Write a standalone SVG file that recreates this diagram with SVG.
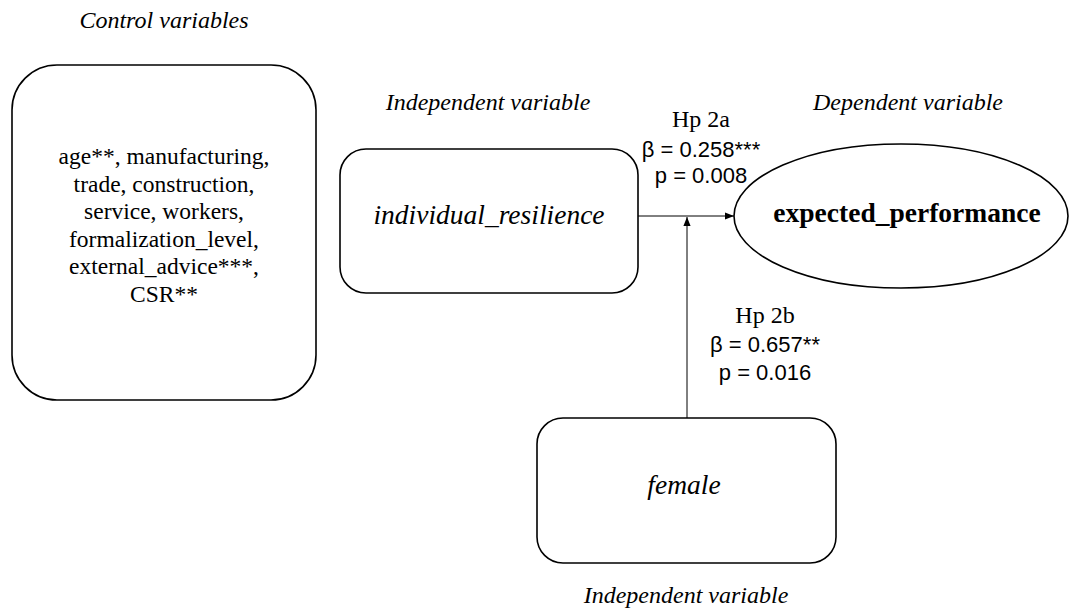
<svg xmlns="http://www.w3.org/2000/svg" width="1073" height="608" viewBox="0 0 1073 608">
  <style>
    .box { fill: #ffffff; stroke: #000000; stroke-width: 1.6; }
    .rm { font-family: 'Liberation Serif', 'DejaVu Serif', serif; fill: #000000; }
    .sf { font-family: 'Liberation Sans', 'DejaVu Sans', sans-serif; fill: #000000; }
    .cap { font-size: 24px; font-style: italic; text-anchor: middle; }
    .body { font-size: 23.5px; text-anchor: middle; }
    .hp { font-size: 24px; text-anchor: middle; }
    .stat { font-size: 22px; text-anchor: middle; }
    .node { font-size: 27.5px; text-anchor: middle; }
    .conn { stroke: #000000; stroke-width: 1; fill: none; }
  </style>
  <defs>
    <marker id="arrow" viewBox="0 0 10 10" refX="10" refY="5" markerWidth="9" markerHeight="9" markerUnits="userSpaceOnUse" orient="auto">
      <path d="M0,1 L10,5 L0,9 Z" fill="#000000"/>
    </marker>
  </defs>

  <rect width="1073" height="608" fill="#ffffff"/>

  <!-- Section captions -->
  <text class="rm cap" x="164" y="28">Control variables</text>
  <text class="rm cap" x="488" y="110">Independent variable</text>
  <text class="rm cap" x="908" y="110">Dependent variable</text>
  <text class="rm cap" x="686" y="603">Independent variable</text>

  <!-- Control variables block -->
  <g id="controls">
    <rect class="box" x="12" y="65" width="304" height="335" rx="45" ry="45"/>
    <text class="rm body" x="164" y="164">age**, manufacturing,</text>
    <text class="rm body" x="164" y="192">trade, construction,</text>
    <text class="rm body" x="164" y="219">service, workers,</text>
    <text class="rm body" x="164" y="247">formalization_level,</text>
    <text class="rm body" x="164" y="274">external_advice***,</text>
    <text class="rm body" x="164" y="302">CSR**</text>
  </g>

  <!-- Independent variable: individual_resilience -->
  <g id="resilience">
    <rect class="box" x="340" y="149" width="298" height="144" rx="26" ry="26"/>
    <text class="rm node" x="489" y="224" font-style="italic">individual_resilience</text>
  </g>

  <!-- Dependent variable: expected_performance -->
  <g id="performance">
    <ellipse class="box" cx="901" cy="216" rx="167" ry="72"/>
    <text class="rm node" x="907" y="222" font-weight="bold">expected_performance</text>
  </g>

  <!-- Moderator: female -->
  <g id="female">
    <rect class="box" x="537" y="418" width="299" height="145" rx="26" ry="26"/>
    <text class="rm node" x="684" y="494" font-style="italic">female</text>
  </g>

  <!-- Paths -->
  <g id="connectors">
    <line class="conn" x1="638" y1="216" x2="734" y2="216" marker-end="url(#arrow)"/>
    <line class="conn" x1="687" y1="418" x2="687" y2="217" marker-end="url(#arrow)"/>
  </g>

  <!-- Path coefficients -->
  <g id="labels">
    <text class="rm hp" x="701" y="127">Hp 2a</text>
    <text class="sf stat" x="701" y="157">β = 0.258***</text>
    <text class="sf stat" x="701" y="183">p = 0.008</text>
    <text class="rm hp" x="765" y="323">Hp 2b</text>
    <text class="sf stat" x="765" y="352">β = 0.657**</text>
    <text class="sf stat" x="765" y="380">p = 0.016</text>
  </g>
</svg>
